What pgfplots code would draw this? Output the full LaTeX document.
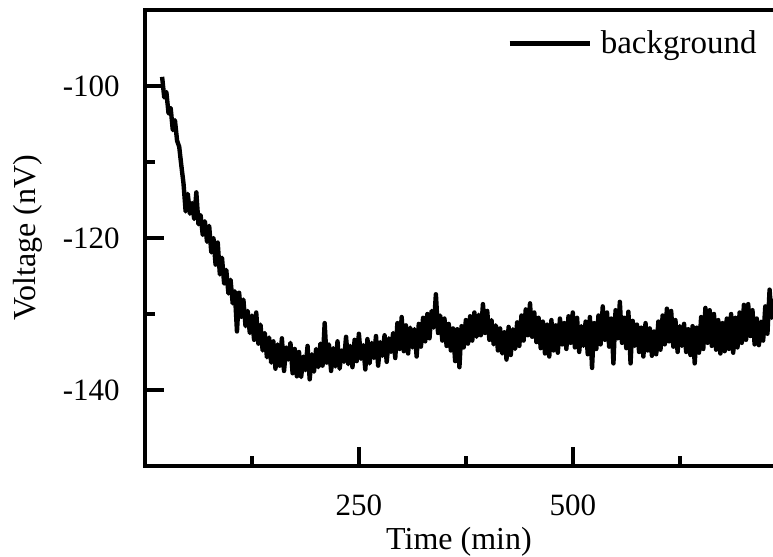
\documentclass[border=0pt]{standalone}
\usepackage{pgfplots}
\pgfplotsset{compat=1.18}
\usepackage{fontspec}
\setmainfont{Liberation Serif}
\begin{document}
\begin{tikzpicture}
\begin{axis}[
  scale only axis,
  width=314pt, height=228pt,
  xmin=0, xmax=734, ymin=-150, ymax=-90,
  axis x line*=bottom, axis y line*=left,
  axis line style={line width=2pt, line cap=rect},
  tick align=inside,
  tick style={line width=2pt, black},
  major tick length=9.5pt, minor tick length=5pt,
  xtick={250,500}, xticklabels={250,500},
  minor xtick={125,375,625},
  ytick={-100,-120,-140}, yticklabels={-100,-120,-140},
  minor ytick={-110,-130},
  xticklabel style={anchor=center, yshift=-19.5pt, font=\fontsize{15.5}{18}\selectfont},
  yticklabel style={anchor=east, inner sep=0pt, xshift=-12.5pt, font=\fontsize{15.5}{18}\selectfont},
  xlabel={Time (min)}, ylabel={Voltage (nV)},
  every axis x label/.style={at={([yshift=-38pt]axis description cs:0.5,0)}, anchor=center, font=\fontsize{16}{19}\selectfont},
  every axis y label/.style={at={([xshift=-58.5pt]axis description cs:0,0.5)}, anchor=center, rotate=90, font=\fontsize{16}{19}\selectfont},
  legend style={draw=none, fill=none, at={(axis description cs:1,1)}, anchor=north east, xshift=-8pt, yshift=-10pt, inner sep=0pt, font=\fontsize{16.5}{19}\selectfont, nodes={inner sep=0pt}},
  legend image code/.code={\draw[#1] (0pt,0pt) -- (40pt,0pt); \path (44.5pt,0pt);},
  legend cell align=left,
]
\addplot[black, line width=2.2pt, line join=round] coordinates {
(20,-98.8) (22.5,-101.5) (25,-100.8) (27.5,-103.6) (30,-102.9) (32.5,-105.8) (35,-104.5) (37.5,-107.2) (40,-108.0) (42.5,-110.5)
(45,-112.8) (47.5,-116.5) (50,-114.2) (52.5,-116.8) (55,-115.4) (57.5,-117.5) (60,-114.0) (62.5,-118.2) (65,-117.0) (67.5,-119.6)
(70,-117.8) (72.5,-120.5) (75,-118.4) (77.5,-121.9) (80,-120.0) (82.5,-123.5) (85,-120.6) (87.5,-124.8) (90,-122.6) (92.5,-126.0)
(95,-124.2) (97.5,-127.3) (100,-125.5) (102.5,-128.6) (105,-127.0) (107.5,-132.3) (110,-127.2) (112.5,-130.4) (115,-128.1) (117.5,-131.6)
(120,-129.6) (122.5,-132.5) (125,-130.2) (127.5,-133.4) (130,-129.8) (132.5,-133.9) (135,-131.4) (137.5,-134.8) (140,-132.5) (142.5,-135.7)
(145,-133.1) (147.5,-136.4) (150,-133.6) (152.5,-137.2) (155,-134.0) (157.5,-136.8) (160,-133.2) (162.5,-137.5) (165,-134.4) (167.5,-136.0)
(170,-133.8) (172.5,-137.8) (175,-134.6) (177.5,-138.2) (180,-135.0) (182.5,-138.3) (185,-135.6) (187.5,-137.4) (190,-134.2) (192.5,-138.6)
(195,-135.3) (197.5,-137.6) (200,-134.6) (202.5,-137.0) (205,-133.9) (207.5,-136.8) (210,-131.2) (212.5,-136.4) (215,-134.0) (217.5,-137.5)
(220,-134.5) (222.5,-136.9) (225,-133.6) (227.5,-137.2) (230,-134.8) (232.5,-136.3) (235,-133.0) (237.5,-136.6) (240,-134.2) (242.5,-137.0)
(245,-133.4) (247.5,-136.2) (250,-132.6) (252.5,-135.9) (255,-134.1) (257.5,-137.3) (260,-133.3) (262.5,-136.5) (265,-133.8) (267.5,-135.8)
(270,-132.9) (272.5,-136.8) (275,-133.7) (277.5,-135.5) (280,-132.8) (282.5,-136.3) (285,-133.2) (287.5,-135.0) (290,-132.5) (292.5,-135.8)
(295,-131.2) (297.5,-134.6) (300,-130.4) (302.5,-134.9) (305,-131.5) (307.5,-135.2) (310,-131.8) (312.5,-134.4) (315,-132.0) (317.5,-135.6)
(320,-131.3) (322.5,-134.3) (325,-130.5) (327.5,-133.6) (330,-130.0) (332.5,-133.2) (335,-129.6) (337.5,-131.8) (340,-127.4) (342.5,-132.5)
(345,-130.2) (347.5,-133.5) (350,-130.6) (352.5,-134.2) (355,-131.3) (357.5,-134.8) (360,-131.9) (362.5,-136.2) (365,-132.0) (367.5,-137.0)
(370,-131.6) (372.5,-134.4) (375,-130.8) (377.5,-133.9) (380,-130.3) (382.5,-133.5) (385,-129.8) (387.5,-133.0) (390,-130.1) (392.5,-132.8)
(395,-128.7) (397.5,-132.5) (400,-129.6) (402.5,-133.4) (405,-130.8) (407.5,-134.0) (410,-131.5) (412.5,-134.8) (415,-131.9) (417.5,-135.2)
(420,-132.4) (422.5,-136.0) (425,-131.7) (427.5,-135.4) (430,-132.0) (432.5,-134.6) (435,-131.1) (437.5,-134.2) (440,-130.2) (442.5,-133.5)
(445,-129.4) (447.5,-132.8) (450,-128.6) (452.5,-133.0) (455,-129.8) (457.5,-133.7) (460,-130.5) (462.5,-134.5) (465,-131.0) (467.5,-135.2)
(470,-131.4) (472.5,-135.6) (475,-130.8) (477.5,-134.8) (480,-131.5) (482.5,-135.1) (485,-130.6) (487.5,-134.0) (490,-131.2) (492.5,-134.6)
(495,-130.3) (497.5,-133.8) (500,-129.8) (502.5,-134.4) (505,-130.5) (507.5,-135.0) (510,-131.6) (512.5,-134.2) (515,-131.0) (517.5,-135.3)
(520,-130.4) (522.5,-137.1) (525,-131.2) (527.5,-134.6) (530,-130.2) (532.5,-134.0) (535,-129.0) (537.5,-133.4) (540,-129.8) (542.5,-134.3)
(545,-130.6) (547.5,-136.5) (550,-129.5) (552.5,-133.2) (555,-128.4) (557.5,-133.8) (560,-130.5) (562.5,-134.5) (565,-129.7) (567.5,-136.5)
(570,-130.9) (572.5,-134.2) (575,-131.4) (577.5,-135.0) (580,-131.8) (582.5,-135.6) (585,-131.2) (587.5,-134.8) (590,-131.9) (592.5,-135.5)
(595,-132.3) (597.5,-135.3) (600,-131.0) (602.5,-134.7) (605,-130.2) (607.5,-134.0) (610,-129.3) (612.5,-133.6) (615,-129.6) (617.5,-134.3)
(620,-130.8) (622.5,-135.0) (625,-131.6) (627.5,-134.2) (630,-131.3) (632.5,-135.0) (635,-132.0) (637.5,-135.4) (640,-131.6) (642.5,-136.5)
(645,-131.8) (647.5,-135.1) (650,-130.4) (652.5,-134.6) (655,-129.2) (657.5,-133.8) (660,-129.5) (662.5,-134.2) (665,-130.0) (667.5,-134.7)
(670,-130.8) (672.5,-135.2) (675,-131.2) (677.5,-134.9) (680,-130.6) (682.5,-134.6) (685,-130.0) (687.5,-135.1) (690,-130.5) (692.5,-134.4)
(695,-129.8) (697.5,-133.8) (700,-128.8) (702.5,-133.4) (705,-128.7) (707.5,-132.9) (710,-129.5) (712.5,-134.0) (715,-130.6) (717.5,-134.1)
(720,-131.0) (722.5,-133.5) (725,-129.0) (727.5,-132.6) (730,-126.8) (732.5,-130.5) (735,-128.0)
};
\addlegendentry{background}
\coordinate (NW) at (rel axis cs:0,1);
\coordinate (NE) at (rel axis cs:1,1);
\coordinate (SW) at (rel axis cs:0,0);
\end{axis}
\draw[line width=2pt, line cap=rect] (NW) -- (NE);
\pgfresetboundingbox
\path[use as bounding box] ([xshift=-72.5pt,yshift=-45.5pt]SW) rectangle ([yshift=5pt]NE);
\end{tikzpicture}
\end{document}
